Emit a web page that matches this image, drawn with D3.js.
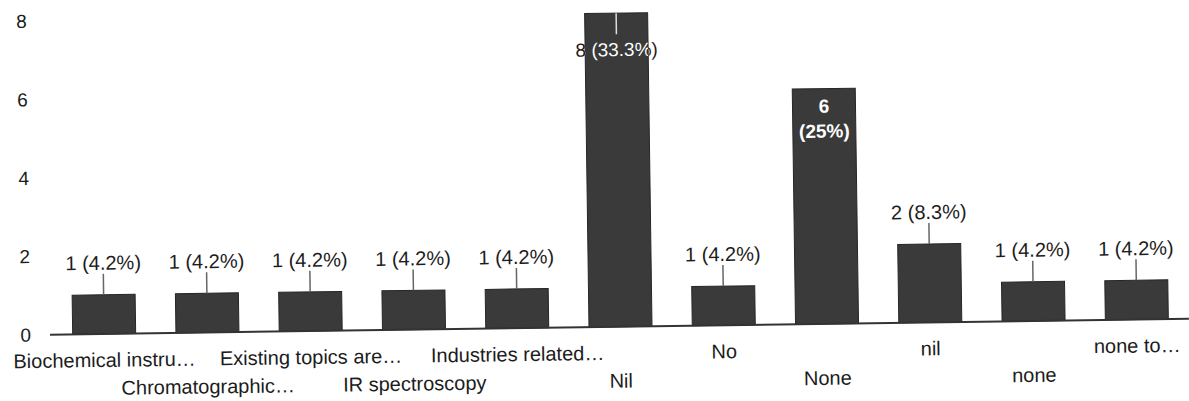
<!DOCTYPE html>
<html>
<head>
<meta charset="utf-8">
<script src="https://cdn.jsdelivr.net/npm/d3@7"></script>
<style>
  html, body { margin: 0; padding: 0; background: #fff; }
  svg { display: block; }
  text { font-family: "Liberation Sans", Arial, sans-serif; }
</style>
</head>
<body>
<svg id="chart" width="1189" height="401"></svg>
<script>
// ---- data ----
const categories = [
  "Biochemical instru…", "Chromatographic…", "Existing topics are…", "IR spectroscopy",
  "Industries related…", "Nil", "No", "None", "nil", "none", "none to…"
];
const counts = [1, 1, 1, 1, 1, 8, 1, 6, 2, 1, 1];
const percents = ["4.2%", "4.2%", "4.2%", "4.2%", "4.2%", "33.3%", "4.2%", "25%", "8.3%", "4.2%", "4.2%"];
const yTicks = [0, 2, 4, 6, 8];

const svg = d3.select("#chart");
const baseY = 327;

// the scanned page is slightly tilted
const g = svg.append("g").attr("transform", `rotate(-0.8, 600, ${baseY})`);

const x = d3.scaleBand().domain(categories).range([53, 1188]).paddingInner(0.39).paddingOuter(0.19);
const y = d3.scaleLinear().domain([0, 8]).range([baseY, baseY - 8 * 39.2]);

const textColor = "#1c1c1c";
const barColor = "#3a3a3a";

// y-axis tick labels
const yAxis = d3.axisLeft(y).tickValues(yTicks).tickSize(0).tickPadding(0);
const ya = g.append("g").attr("transform", "translate(31,0)").call(yAxis);
ya.select(".domain").remove();
ya.selectAll("text").attr("fill", textColor).attr("font-size", 19).attr("font-family", "Liberation Sans, Arial, sans-serif");

const data = categories.map((c, i) => ({ c, v: counts[i], p: percents[i], i }));

// clip paths for bars (used for inside labels)
const defs = svg.append("defs");
data.forEach(d => {
  defs.append("clipPath").attr("id", "clip" + d.i)
    .append("rect")
    .attr("x", x(d.c)).attr("y", y(d.v))
    .attr("width", x.bandwidth()).attr("height", y(0) - y(d.v));
});

// bars
g.selectAll("rect.bar").data(data).join("rect")
  .attr("class", "bar")
  .attr("x", d => x(d.c))
  .attr("y", d => y(d.v))
  .attr("width", x.bandwidth())
  .attr("height", d => y(0) - y(d.v))
  .attr("fill", barColor)
  .attr("stroke", "#262626")
  .attr("stroke-width", 1);

// baseline
g.append("line")
  .attr("x1", 50).attr("x2", 1189)
  .attr("y1", y(0)).attr("y2", y(0))
  .attr("stroke", "#333").attr("stroke-width", 2);

// value labels
const outside = data.filter(d => d.v <= 2);
g.selectAll("line.leader").data(outside).join("line")
  .attr("class", "leader")
  .attr("x1", d => x(d.c) + x.bandwidth() / 2)
  .attr("x2", d => x(d.c) + x.bandwidth() / 2)
  .attr("y1", d => y(d.v))
  .attr("y2", d => y(d.v) - 21)
  .attr("stroke", "#666").attr("stroke-width", 1.5);
g.selectAll("text.val").data(outside).join("text")
  .attr("class", "val")
  .attr("x", d => x(d.c) + x.bandwidth() / 2)
  .attr("y", d => y(d.v) - 25)
  .attr("text-anchor", "middle")
  .attr("font-size", 20)
  .attr("fill", textColor)
  .text(d => `${d.v} (${d.p})`);

// Nil (8) label: single line, wider than the bar
const dNil = data[5];
const cxNil = x(dNil.c) + x.bandwidth() / 2;
g.append("line")
  .attr("x1", cxNil).attr("x2", cxNil)
  .attr("y1", y(dNil.v)).attr("y2", y(dNil.v) + 21)
  .attr("stroke", "#ddd").attr("stroke-width", 1.5);
g.append("text")
  .attr("x", cxNil).attr("y", y(dNil.v) + 43)
  .attr("text-anchor", "middle").attr("font-size", 19)
  .attr("fill", textColor)
  .text(`${dNil.v} (${dNil.p})`);
g.append("text")
  .attr("x", cxNil).attr("y", y(dNil.v) + 43)
  .attr("text-anchor", "middle").attr("font-size", 19)
  .attr("fill", "#fff")
  .attr("clip-path", "url(#clip5)")
  .text(`${dNil.v} (${dNil.p})`);

// None (6) label: two lines inside the bar
const dNone = data[7];
const cxNone = x(dNone.c) + x.bandwidth() / 2;
g.append("text")
  .attr("x", cxNone).attr("y", y(dNone.v) + 24)
  .attr("text-anchor", "middle").attr("font-size", 19).attr("font-weight", "bold")
  .attr("fill", "#fff").text(`${dNone.v}`);
g.append("text")
  .attr("x", cxNone).attr("y", y(dNone.v) + 49)
  .attr("text-anchor", "middle").attr("font-size", 19).attr("font-weight", "bold")
  .attr("fill", "#fff").text(`(${dNone.p})`);

// x-axis category labels, alternating rows
const xAxis = d3.axisBottom(x).tickSize(0).tickPadding(0);
const xa = g.append("g").attr("transform", `translate(0,${baseY})`).call(xAxis);
xa.select(".domain").remove();
xa.selectAll("text")
  .attr("fill", textColor)
  .attr("font-size", 20)
  .attr("font-family", "Liberation Sans, Arial, sans-serif")
  .attr("dy", null)
  .attr("y", (d, i) => i % 2 === 0 ? 33 : 61);
</script>
</body>
</html>
